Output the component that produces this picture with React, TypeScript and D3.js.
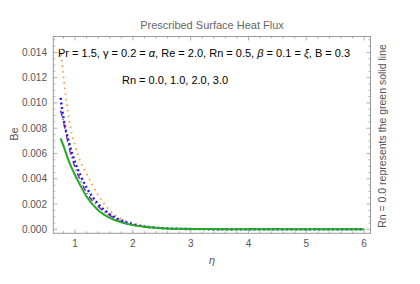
import * as React from "react";
import * as d3 from "d3";

// similarity variable and the four Bejan number profiles (Rn = 0.0, 1.0, 2.0, 3.0)
const eta = [0.75, 0.8, 0.9, 1.0, 1.1, 1.2, 1.4, 1.6, 1.8, 2.0, 2.2, 2.5, 3.0, 3.5, 4.0, 5.0, 6.0];
const beRn0 = [0.0072, 0.0066, 0.0053, 0.0043, 0.0034, 0.0026, 0.0015, 0.0009, 0.00055, 0.00033, 0.0002, 0.00009, 0.00003, 0.00001, 0, 0, 0];
const beRn1 = [0.0094, 0.0085, 0.0064, 0.0049, 0.0038, 0.0029, 0.0018, 0.0011, 0.00062, 0.00035, 0.0002, 0.00008, 0.00002, 0.000005, 0, 0, 0];
const beRn2 = [0.0104, 0.0088, 0.0068, 0.0053, 0.0042, 0.0033, 0.002, 0.0012, 0.0007, 0.0004, 0.00022, 0.00009, 0.00002, 0.000005, 0, 0, 0];
const beRn3 = [0.0143, 0.0121, 0.0086, 0.0066, 0.0053, 0.0044, 0.0027, 0.0015, 0.00082, 0.00048, 0.00026, 0.0001, 0.00002, 0.000005, 0, 0, 0];

const xTicks = [1, 2, 3, 4, 5, 6];
const yTicks = [0, 0.002, 0.004, 0.006, 0.008, 0.01, 0.012, 0.014];

const FONT = "'Liberation Sans', Arial, sans-serif";

export default class App extends React.Component {
  private svgRef = React.createRef<SVGSVGElement>();

  public componentDidMount() {
    this.drawChart();
  }

  public render() {
    return (
      <svg ref={this.svgRef} width={420} height={284}
        style={{ position: "absolute", top: 0, left: 0, background: "#fff" }} />
    );
  }

  private drawChart() {
    if (!this.svgRef.current) return;
    const svg = d3.select(this.svgRef.current);
    svg.selectAll("*").remove();

    const frame = { left: 53.3, right: 370.5, top: 36.5, bottom: 233.3 };
    const x = d3.scaleLinear().domain([0.624, 6.11]).range([frame.left, frame.right]);
    const y = d3.scaleLinear().domain([-0.000316, 0.01526]).range([frame.bottom, frame.top]);

    const tickColor = "#999";
    const labelColor = "#555";

    // frame
    svg.append("rect")
      .attr("x", frame.left).attr("y", frame.top)
      .attr("width", frame.right - frame.left).attr("height", frame.bottom - frame.top)
      .attr("fill", "none").attr("stroke", tickColor).attr("stroke-width", 1);

    // ticks on all four sides, pointing inward
    const g = svg.append("g").attr("stroke", tickColor).attr("stroke-width", 0.8);
    const xMinor = d3.range(0.8, 6.11, 0.2);
    xMinor.forEach((v) => {
      const major = xTicks.some((t) => Math.abs(t - v) < 1e-6);
      const len = major ? 4 : 2;
      g.append("line").attr("x1", x(v)).attr("x2", x(v)).attr("y1", frame.bottom).attr("y2", frame.bottom - len);
      g.append("line").attr("x1", x(v)).attr("x2", x(v)).attr("y1", frame.top).attr("y2", frame.top + len);
    });
    const yMinor = d3.range(0, 0.0152, 0.0005);
    yMinor.forEach((v) => {
      const major = yTicks.some((t) => Math.abs(t - v) < 1e-9);
      const len = major ? 4 : 2;
      g.append("line").attr("y1", y(v)).attr("y2", y(v)).attr("x1", frame.left).attr("x2", frame.left + len);
      g.append("line").attr("y1", y(v)).attr("y2", y(v)).attr("x1", frame.right).attr("x2", frame.right - len);
    });

    // tick labels
    svg.append("g").selectAll("text").data(xTicks).enter().append("text")
      .attr("x", (d) => x(d)).attr("y", 247)
      .attr("text-anchor", "middle")
      .attr("font-family", FONT).attr("font-size", 10).attr("fill", labelColor)
      .text((d) => d);
    svg.append("g").selectAll("text").data(yTicks).enter().append("text")
      .attr("x", 47).attr("y", (d) => y(d) + 3.5)
      .attr("text-anchor", "end")
      .attr("font-family", FONT).attr("font-size", 10).attr("fill", labelColor)
      .text((d) => d3.format(".3f")(d));

    // titles
    svg.append("text")
      .attr("x", 212).attr("y", 29).attr("text-anchor", "middle")
      .attr("font-family", FONT).attr("font-size", 11).attr("fill", "#666")
      .text("Prescribed Surface Heat Flux");
    svg.append("text")
      .attr("x", 212).attr("y", 264).attr("text-anchor", "middle")
      .attr("font-family", FONT).attr("font-size", 11).attr("font-style", "italic").attr("fill", labelColor)
      .text("η");
    svg.append("text")
      .attr("transform", "translate(18,134) rotate(-90)").attr("text-anchor", "middle")
      .attr("font-family", FONT).attr("font-size", 11).attr("fill", labelColor)
      .text("Be");
    svg.append("text")
      .attr("transform", "translate(385.5,136) rotate(-90)").attr("text-anchor", "middle")
      .attr("font-family", FONT).attr("font-size", 10.5).attr("fill", labelColor)
      .text("Rn = 0.0 represents the green solid line");

    // parameter annotations
    const ann = svg.append("text")
      .attr("x", 58).attr("y", 57)
      .attr("font-family", FONT).attr("font-size", 11).attr("fill", "#000");
    const parts: [string, boolean][] = [
      ["Pr = 1.5, ", false], ["γ", false], [" = 0.2 = ", false], ["α", true],
      [", Re = 2.0, Rn = 0.5, ", false], ["β", true], [" = 0.1 = ", false], ["ξ", true],
      [", B = 0.3", false],
    ];
    parts.forEach(([t, it]) => {
      ann.append("tspan").attr("font-style", it ? "italic" : "normal").text(t);
    });
    svg.append("text")
      .attr("x", 122).attr("y", 83.5)
      .attr("font-family", FONT).attr("font-size", 11).attr("fill", "#000")
      .text("Rn = 0.0, 1.0, 2.0, 3.0");

    // curves
    const line = (vals: number[]) => d3.line<number>()
      .x((_, i) => x(eta[i]))
      .y((d) => y(d))
      .curve(d3.curveMonotoneX)(vals);

    const curves = svg.append("g").attr("fill", "none");
    curves.append("path").attr("d", line(beRn3))
      .attr("stroke", "#ff9f40").attr("stroke-width", 1.8)
      .attr("stroke-dasharray", "1.6 4").attr("stroke-linecap", "butt");
    curves.append("path").attr("d", line(beRn2))
      .attr("stroke", "#1a1aff").attr("stroke-width", 2.4)
      .attr("stroke-dasharray", "2 2.6");
    curves.append("path").attr("d", line(beRn1))
      .attr("stroke", "#7a1fa8").attr("stroke-width", 1.4)
      .attr("stroke-dasharray", "6 3 1 3");
    curves.append("path").attr("d", line(beRn0))
      .attr("stroke", "#22aa22").attr("stroke-width", 2);
  }
}
